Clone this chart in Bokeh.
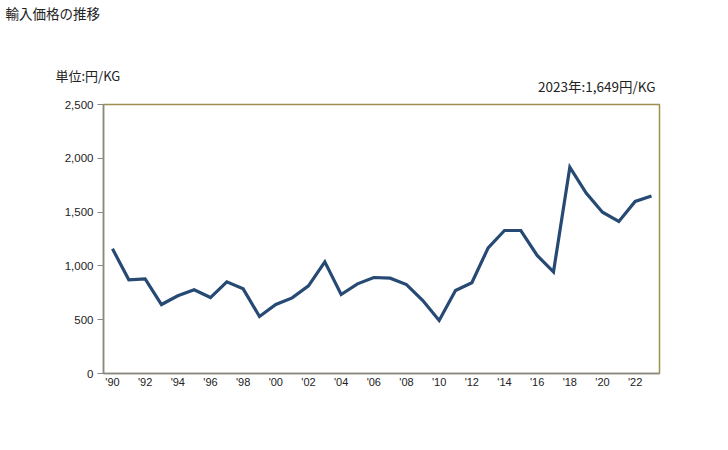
from bokeh.plotting import figure
from bokeh.models import Range1d, FixedTicker, Title, NumeralTickFormatter
from bokeh.embed import file_html
from bokeh.resources import INLINE

years = list(range(1990, 2024))
prices = [1159, 871, 880, 641, 722, 778, 706, 852, 787, 530, 641, 703, 815, 1038,
          734, 833, 892, 886, 827, 678, 493, 771, 843, 1168, 1329, 1329, 1097, 945,
          1917, 1676, 1499, 1413, 1599, 1649]
x_ticks = list(range(1990, 2023, 2))
x_tick_labels = ["'90", "'92", "'94", "'96", "'98", "'00", "'02", "'04", "'06", "'08",
                 "'10", "'12", "'14", "'16", "'18", "'20", "'22"]
y_ticks = [0, 500, 1000, 1500, 2000, 2500]

title_text = "輸入価格の推移"
unit_text = "単位:円/KG"
note_text = "2023年:1,649円/KG"

p = figure(width=720, height=442, output_backend="svg", toolbar_location=None,
           x_range=Range1d(1989.45, 2023.49), y_range=Range1d(0, 2500),
           min_border_left=103, min_border_right=61, min_border_top=104, min_border_bottom=69)
p.title = None
p.above = []

p.line(years, prices, line_color="#264a73", line_width=3.2, line_join="miter")

p.grid.visible = False
p.outline_line_color = "#9c8f50"
p.outline_line_width = 1.5
p.background_fill_color = "white"
p.border_fill_color = "white"

ax = p.xaxis[0]
ax.ticker = FixedTicker(ticks=x_ticks)
ax.major_label_overrides = {t: l for t, l in zip(x_ticks, x_tick_labels)}
ax.major_tick_line_color = None
ax.major_tick_out = 0
ax.major_tick_in = 0
ax.minor_tick_line_color = None
ax.axis_line_color = "#888888"
ax.axis_line_width = 1.5
ax.major_label_text_font = "Liberation Sans"
ax.major_label_text_font_size = "11px"
ax.major_label_text_color = "#222222"
ax.major_label_standoff = 2

ay = p.yaxis[0]
ay.ticker = FixedTicker(ticks=y_ticks)
ay.formatter = NumeralTickFormatter(format="0,0")
ay.major_tick_out = 6
ay.major_tick_in = 0
ay.minor_tick_line_color = None
ay.major_tick_line_color = "#888888"
ay.axis_line_color = "#888888"
ay.axis_line_width = 1.5
ay.major_label_text_font = "Liberation Sans"
ay.major_label_text_font_size = "11.5px"
ay.major_label_text_color = "#222222"
ay.major_label_standoff = 4

jp = "Noto Sans CJK JP"
p.add_layout(Title(text=note_text, align="right", offset=4, standoff=18,
                   text_font=jp, text_font_size="13.5px", text_font_style="normal",
                   text_color="#222222"), "above")
p.add_layout(Title(text=unit_text, align="left", offset=-48, standoff=-40,
                   text_font=jp, text_font_size="13px", text_font_style="normal",
                   text_color="#222222"), "above")
p.add_layout(Title(text=" ", align="left", offset=0, standoff=22,
                   text_font=jp, text_font_size="13px", text_font_style="normal",
                   text_color="#222222"), "above")
p.add_layout(Title(text=title_text, align="left", offset=-98, standoff=-2,
                   text_font=jp, text_font_size="13.5px", text_font_style="normal",
                   text_color="#222222"), "above")

open("out.html", "w").write(file_html(p, INLINE))
